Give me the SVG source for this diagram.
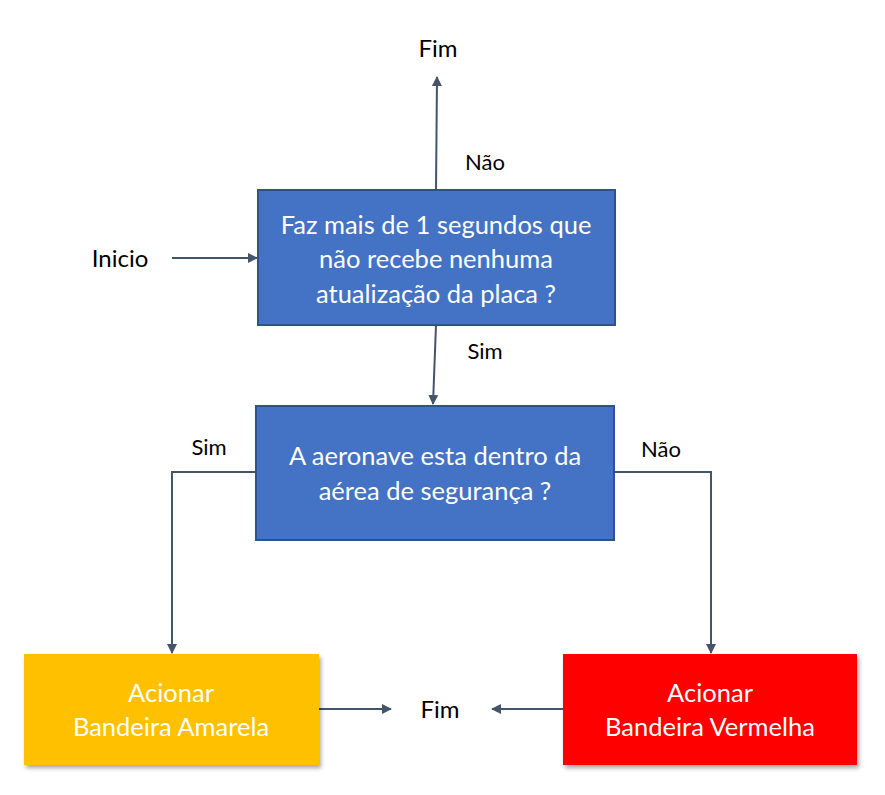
<svg xmlns="http://www.w3.org/2000/svg" width="885" height="795" viewBox="0 0 885 795">
<style>
.lbl{font-family:Lato,"Open Sans","Liberation Sans",sans-serif;fill:#000;text-anchor:middle}
.big{font-size:24px}
.sm{font-size:22px}
.in{font-family:Lato,"Open Sans","Liberation Sans",sans-serif;fill:#fff;font-size:25.5px;text-anchor:middle}
.dec{fill:#4472C4;stroke:#2F528F;stroke-width:2}
.con{fill:none;stroke:#44546A;stroke-width:2}
</style>
<defs>
<marker id="ah" markerWidth="10" markerHeight="10" refX="9" refY="5" orient="auto" markerUnits="userSpaceOnUse">
<path d="M0,0 L10,5 L0,10 z" fill="#44546A"/>
</marker>
<filter id="sh" x="-10%" y="-10%" width="130%" height="130%">
<feDropShadow dx="2" dy="3" stdDeviation="2" flood-color="#000" flood-opacity="0.35"/>
</filter>
</defs>
<rect width="885" height="795" fill="#fff"/>
<g id="connectors">
<line class="con" x1="436" y1="190" x2="437" y2="77" marker-end="url(#ah)"/>
<line class="con" x1="172" y1="258" x2="257" y2="258" marker-end="url(#ah)"/>
<line class="con" x1="436" y1="325" x2="433" y2="404" marker-end="url(#ah)"/>
<polyline class="con" points="256,472 172,472 172,653" marker-end="url(#ah)"/>
<polyline class="con" points="614,472 711,472 711,653" marker-end="url(#ah)"/>
<line class="con" x1="319" y1="709" x2="391" y2="709" marker-end="url(#ah)"/>
<line class="con" x1="563" y1="709" x2="492" y2="709" marker-end="url(#ah)"/>
</g>
<g id="labels">
<text class="lbl big" x="438" y="57">Fim</text>
<text class="lbl sm" x="485" y="170">Não</text>
<text class="lbl big" x="120" y="267">Inicio</text>
<text class="lbl sm" x="485" y="359">Sim</text>
<text class="lbl sm" x="209" y="455">Sim</text>
<text class="lbl sm" x="661" y="457">Não</text>
<text class="lbl big" x="440" y="718">Fim</text>
</g>
<g id="q1">
<rect class="dec" x="258" y="190" width="357" height="135"/>
<text class="in" x="436" y="234">Faz mais de 1 segundos que</text>
<text class="in" x="436" y="268">não recebe nenhuma</text>
<text class="in" x="436" y="303">atualização da placa ?</text>
</g>
<g id="q2">
<rect class="dec" x="256" y="406" width="358" height="134"/>
<text class="in" x="435" y="465">A aeronave esta dentro da</text>
<text class="in" x="435" y="500">aérea de segurança ?</text>
</g>
<g id="amarela">
<rect x="24" y="654" width="295" height="111" fill="#FFC000" filter="url(#sh)"/>
<text class="in" x="171" y="702">Acionar</text>
<text class="in" x="171" y="736">Bandeira Amarela</text>
</g>
<g id="vermelha">
<rect x="563" y="654" width="294" height="111" fill="#FF0000" filter="url(#sh)"/>
<text class="in" x="710" y="702">Acionar</text>
<text class="in" x="710" y="736">Bandeira Vermelha</text>
</g>
</svg>
